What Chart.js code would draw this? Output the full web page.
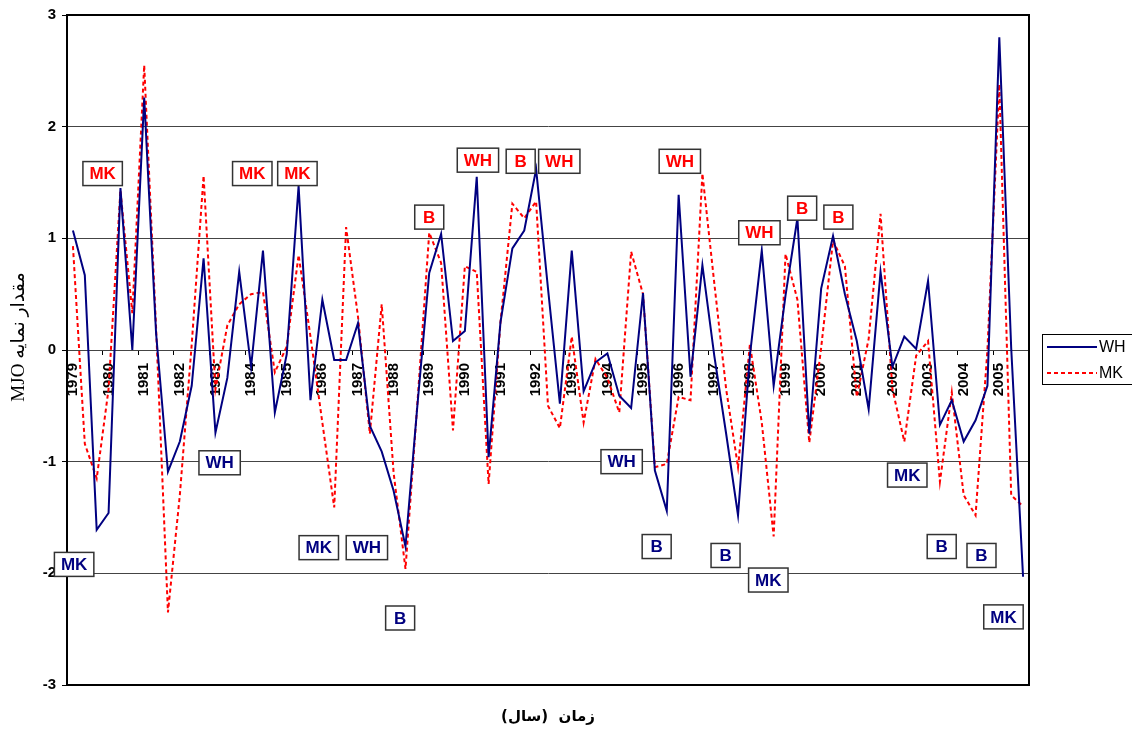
<!DOCTYPE html>
<html>
<head>
<meta charset="utf-8">
<script src="https://cdn.jsdelivr.net/npm/chart.js@4.4.1/dist/chart.umd.min.js"></script>
<style>
  html, body { margin: 0; padding: 0; background: #fff; }
  #wrap { width: 1132px; height: 737px; }
</style>
</head>
<body>
<div id="wrap"><canvas id="mjoChart" width="1132" height="737"></canvas></div>
<script>
// سال‌ها (سه مقدار برای هر سال)
const years = [1979, 1980, 1981, 1982, 1983, 1984, 1985, 1986, 1987, 1988, 1989, 1990, 1991,
  1992, 1993, 1994, 1995, 1996, 1997, 1998, 1999, 2000, 2001, 2002, 2003, 2004, 2005];
const categories = years.flatMap(y => [String(y), String(y), String(y)]);

const whValues = [
  1.07, 0.67, -1.61, -1.46, 1.45, 0.0, 2.26, 0.15, -1.09, -0.82,
  -0.32, 0.82, -0.74, -0.25, 0.70, -0.15, 0.89, -0.56, -0.04, 1.47,
  -0.45, 0.45, -0.09, -0.09, 0.24, -0.68, -0.91, -1.26, -1.76, -0.5,
  0.69, 1.04, 0.08, 0.17, 1.55, -0.96, 0.25, 0.91, 1.07, 1.62,
  0.55, -0.48, 0.89, -0.37, -0.11, -0.03, -0.41, -0.52, 0.51, -1.08,
  -1.44, 1.39, -0.24, 0.76, -0.05, -0.75, -1.48, -0.05, 0.89, -0.32,
  0.49, 1.18, -0.75, 0.55, 1.02, 0.5, 0.08, -0.53, 0.70, -0.15,
  0.12, 0.01, 0.62, -0.67, -0.45, -0.82, -0.63, -0.32, 2.80, 0.02, -2.03
];

const mkValues = [
  0.93, -0.84, -1.15, -0.35, 1.43, 0.33, 2.55, 0.2, -2.35, -1.3,
  0.05, 1.56, -0.35, 0.22, 0.41, 0.5, 0.52, -0.2, 0.03, 0.85,
  0.12, -0.65, -1.41, 1.1, 0.3, -0.75, 0.41, -1.1, -1.96, -0.48,
  1.05, 0.78, -0.72, 0.75, 0.7, -1.2, 0.25, 1.31, 1.18, 1.33,
  -0.5, -0.7, 0.12, -0.65, -0.08, -0.25, -0.56, 0.88, 0.5, -1.05,
  -1.02, -0.42, -0.45, 1.58, 0.6, -0.35, -1.05, 0.05, -0.65, -1.67,
  0.86, 0.45, -0.83, 0.02, 0.98, 0.75, -0.42, 0.1, 1.22, -0.35,
  -0.82, -0.05, 0.08, -1.18, -0.38, -1.3, -1.48, 0.0, 2.38, -1.3, -1.4
];

const yTicks = [-3, -2, -1, 0, 1, 2, 3];

// برچسب‌های روی نمودار (شماره دسته، مقدار)
const notes = [
  { text: 'MK', tone: 'red', at: 2.5, value: 1.58 },
  { text: 'MK', tone: 'red', at: 15.1, value: 1.58 },
  { text: 'MK', tone: 'red', at: 18.9, value: 1.58 },
  { text: 'B', tone: 'red', at: 30.0, value: 1.19 },
  { text: 'WH', tone: 'red', at: 34.1, value: 1.70 },
  { text: 'B', tone: 'red', at: 37.7, value: 1.69 },
  { text: 'WH', tone: 'red', at: 40.95, value: 1.69 },
  { text: 'WH', tone: 'red', at: 51.1, value: 1.69 },
  { text: 'WH', tone: 'red', at: 57.8, value: 1.05 },
  { text: 'B', tone: 'red', at: 61.4, value: 1.27 },
  { text: 'B', tone: 'red', at: 64.45, value: 1.19 },
  { text: 'MK', tone: 'navy', at: 0.1, value: -1.92 },
  { text: 'WH', tone: 'navy', at: 12.35, value: -1.01 },
  { text: 'MK', tone: 'navy', at: 20.7, value: -1.77 },
  { text: 'WH', tone: 'navy', at: 24.75, value: -1.77 },
  { text: 'B', tone: 'navy', at: 27.55, value: -2.4 },
  { text: 'WH', tone: 'navy', at: 46.2, value: -1.0 },
  { text: 'B', tone: 'navy', at: 49.15, value: -1.76 },
  { text: 'B', tone: 'navy', at: 54.95, value: -1.84 },
  { text: 'MK', tone: 'navy', at: 58.55, value: -2.06 },
  { text: 'MK', tone: 'navy', at: 70.25, value: -1.12 },
  { text: 'B', tone: 'navy', at: 73.15, value: -1.76 },
  { text: 'B', tone: 'navy', at: 76.5, value: -1.84 },
  { text: 'MK', tone: 'navy', at: 78.35, value: -2.39 }
];

const toneColor = { red: '#ff0000', navy: '#000080' };

// قاب، برچسب‌ها، راهنما و عنوان محورها
const extras = {
  id: 'extras',
  afterDraw(chart) {
    const { ctx, chartArea: a, scales: { x, y } } = chart;
    ctx.save();

    ctx.strokeStyle = '#000';
    ctx.lineWidth = 2;
    ctx.strokeRect(a.left, a.top, a.right - a.left, a.bottom - a.top);

    ctx.font = 'bold 17px "Liberation Sans", Arial, sans-serif';
    ctx.textAlign = 'center';
    ctx.textBaseline = 'middle';
    notes.forEach(n => {
      const px = x.getPixelForValue(n.at);
      const py = y.getPixelForValue(n.value);
      const w = Math.max(ctx.measureText(n.text).width + 13, 29);
      const h = 24;
      ctx.fillStyle = '#fff';
      ctx.fillRect(px - w / 2, py - h / 2, w, h);
      ctx.strokeStyle = '#333';
      ctx.lineWidth = 1.5;
      ctx.strokeRect(px - w / 2, py - h / 2, w, h);
      ctx.fillStyle = toneColor[n.tone];
      ctx.fillText(n.text, px, py + 1);
    });

    // راهنما
    ctx.strokeStyle = '#000';
    ctx.lineWidth = 1;
    ctx.strokeRect(1042.5, 334.5, 100, 50);
    ctx.font = '16px "Liberation Sans", Arial, sans-serif';
    ctx.textAlign = 'left';
    chart.data.datasets.forEach((ds, i) => {
      const ly = 347 + i * 26;
      ctx.strokeStyle = ds.borderColor;
      ctx.lineWidth = 2;
      ctx.setLineDash(ds.borderDash || []);
      ctx.beginPath();
      ctx.moveTo(1047, ly);
      ctx.lineTo(1097, ly);
      ctx.stroke();
      ctx.setLineDash([]);
      ctx.fillStyle = '#000';
      ctx.fillText(ds.label, 1099, ly + 1);
    });

    // عنوان محورها
    ctx.direction = 'rtl';
    ctx.textAlign = 'center';
    ctx.fillStyle = '#000';
    ctx.font = 'bold 15px "DejaVu Sans", sans-serif';
    ctx.fillText('زمان  (سال)', 548, 717);

    ctx.translate(19, 337);
    ctx.rotate(-Math.PI / 2);
    ctx.font = '19px "Liberation Serif", "DejaVu Sans", serif';
    ctx.fillText('مقدار نمایه MJO', 0, 0);
    ctx.restore();
  }
};

new Chart(document.getElementById('mjoChart'), {
  type: 'line',
  data: {
    labels: categories,
    datasets: [
      {
        label: 'WH',
        data: whValues,
        borderColor: '#000080',
        borderWidth: 2,
        pointRadius: 0,
        tension: 0,
        fill: false
      },
      {
        label: 'MK',
        data: mkValues,
        borderColor: '#ff0000',
        borderWidth: 2,
        borderDash: [4, 3],
        pointRadius: 0,
        tension: 0,
        fill: false
      }
    ]
  },
  options: {
    responsive: false,
    animation: false,
    layout: { padding: { left: 0, right: 103, top: 14, bottom: 52 } },
    plugins: {
      legend: { display: false },
      tooltip: { enabled: false }
    },
    scales: {
      x: {
        type: 'category',
        position: { y: 0 },
        offset: true,
        border: { display: false },
        grid: {
          offset: true,
          drawOnChartArea: false,
          drawTicks: true,
          tickLength: 5,
          lineWidth: 1,
          color: ctx => ctx.index % 3 === 0 ? '#000' : 'rgba(0,0,0,0)'
        },
        ticks: {
          autoSkip: false,
          minRotation: 90,
          maxRotation: 90,
          padding: 8,
          color: '#000',
          font: { family: '"Liberation Sans", Arial, sans-serif', size: 15, weight: 'bold' },
          callback: function (value, index) {
            return index % 3 === 0 ? this.getLabelForValue(value) : '';
          }
        }
      },
      y: {
        min: yTicks[0],
        max: yTicks[yTicks.length - 1],
        afterFit: scale => { scale.width = 67; },
        afterBuildTicks: scale => { scale.ticks = yTicks.map(v => ({ value: v })); },
        border: { display: true, color: '#000', width: 2 },
        grid: {
          color: '#444',
          lineWidth: 1,
          tickColor: '#000',
          tickLength: 5
        },
        ticks: {
          padding: 6,
          color: '#000',
          font: { family: '"Liberation Sans", Arial, sans-serif', size: 15, weight: 'bold' }
        }
      }
    }
  },
  plugins: [extras]
});
</script>
</body>
</html>
